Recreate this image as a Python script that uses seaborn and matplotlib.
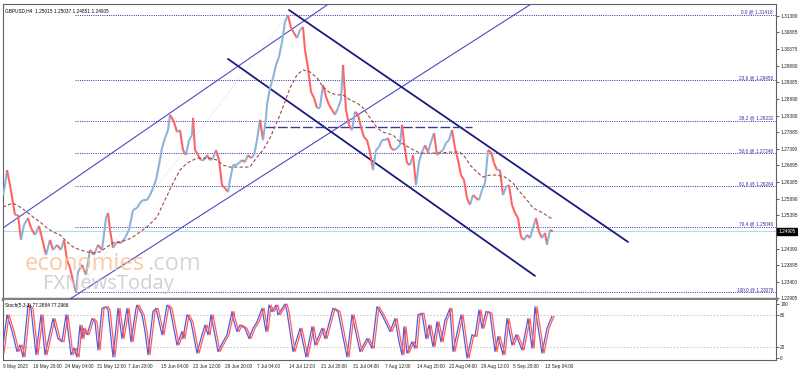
import numpy as np
import pandas as pd
import matplotlib
matplotlib.use("Agg")
import matplotlib.pyplot as plt
import matplotlib.transforms as mtransforms
from matplotlib.collections import LineCollection
import seaborn as sns

# ---------------- data ----------------
# x axis is the bar number (H4 bars); first visible bar = 3
price_bar = [3, 5, 7, 10, 13, 15, 18, 21, 24, 28, 31,
             35, 39, 42, 46, 50, 53, 57, 61, 64, 67,
             70, 74, 76, 78, 82, 86, 90, 94, 98, 102,
             106, 108, 110, 113, 117, 121, 125, 129, 133, 137,
             140, 143, 147, 150, 153, 156, 159, 162, 165, 168,
             170, 174, 177, 180, 183, 186, 189, 192, 193, 195,
             198, 201, 204, 207, 210, 213, 216, 219, 222, 225,
             228, 230, 233, 236, 239, 242, 245, 248, 251, 254,
             257, 260, 263, 266, 267, 270, 273, 276, 279, 282,
             285, 288, 291, 294, 297, 300, 303, 305, 308, 311,
             314, 317, 320, 323, 326, 329, 332, 335, 338, 341,
             343, 346, 349, 352, 355, 358, 361, 364, 367, 370,
             373, 376, 379, 382, 385, 388, 391, 394, 397, 400,
             402, 404, 407, 410, 413, 416, 419, 422, 425, 428,
             431, 434, 437, 440, 443, 446, 449, 452, 455, 458,
             461, 464, 467, 470, 473, 476, 479, 482, 485, 488,
             491, 494, 497, 500, 503, 506, 509, 512, 515, 518,
             521, 524, 527, 530, 533, 536, 539, 542, 545, 547, 550, 553]
price_close = [1.2600, 1.2630, 1.2675, 1.2630, 1.2576, 1.2540, 1.2540, 1.2465, 1.2510, 1.2531, 1.2501,
               1.2480, 1.2507, 1.2471, 1.2420, 1.2465, 1.2435, 1.2450, 1.2435, 1.2465, 1.2405,
               1.2381, 1.2330, 1.2308, 1.2369, 1.2390, 1.2360, 1.2435, 1.2420, 1.2450, 1.2435,
               1.2531, 1.2546, 1.2495, 1.2441, 1.2459, 1.2456, 1.2471, 1.2495, 1.2555, 1.2561,
               1.2576, 1.2585, 1.2585, 1.2600, 1.2621, 1.2645, 1.2690, 1.2741, 1.2771, 1.2795,
               1.2841, 1.2820, 1.2789, 1.2795, 1.2735, 1.2720, 1.2765, 1.2780, 1.2832, 1.2735,
               1.2720, 1.2705, 1.2705, 1.2720, 1.2705, 1.2711, 1.2735, 1.2705, 1.2630, 1.2621,
               1.2609, 1.2645, 1.2690, 1.2690, 1.2696, 1.2705, 1.2699, 1.2720, 1.2711, 1.2720,
               1.2765, 1.2826, 1.2765, 1.2832, 1.2871, 1.2922, 1.2952, 1.2991, 1.3015, 1.3060,
               1.3120, 1.3141, 1.3102, 1.3087, 1.3072, 1.3096, 1.3105, 1.3036, 1.2982, 1.2910,
               1.2892, 1.2862, 1.2862, 1.2931, 1.2895, 1.2871, 1.2856, 1.2841, 1.2862, 1.2886,
               1.2991, 1.2856, 1.2811, 1.2795, 1.2850, 1.2841, 1.2804, 1.2774, 1.2765, 1.2729,
               1.2675, 1.2735, 1.2744, 1.2765, 1.2765, 1.2771, 1.2741, 1.2735, 1.2741, 1.2750,
               1.2811, 1.2759, 1.2696, 1.2690, 1.2720, 1.2630, 1.2699, 1.2729, 1.2750, 1.2729,
               1.2759, 1.2786, 1.2720, 1.2729, 1.2735, 1.2756, 1.2765, 1.2795, 1.2741, 1.2705,
               1.2660, 1.2645, 1.2591, 1.2570, 1.2600, 1.2591, 1.2585, 1.2615, 1.2636, 1.2735,
               1.2729, 1.2696, 1.2675, 1.2675, 1.2600, 1.2624, 1.2630, 1.2570, 1.2546, 1.2531,
               1.2474, 1.2465, 1.2480, 1.2471, 1.2501, 1.2531, 1.2489, 1.2471, 1.2486, 1.2450, 1.2495, 1.24905]

ma_bar = [3, 13, 20, 27, 33, 40, 47, 53, 60, 67,
          73, 80, 87, 93, 100, 107, 113, 120, 127, 133,
          140, 147, 157, 165, 173, 180, 187, 197, 210, 217,
          223, 230, 250, 257, 263, 270, 280, 285, 290, 297,
          303, 310, 317, 323, 330, 337, 343, 350, 357, 363,
          370, 377, 383, 393, 400, 410, 420, 430, 440, 450,
          460, 465, 470, 477, 483, 490, 497, 505, 513, 520,
          527, 533, 543, 552]
ma_value = [1.2564, 1.2576, 1.2564, 1.2549, 1.2534, 1.2519, 1.2501, 1.2489, 1.2480, 1.2459,
            1.2444, 1.2435, 1.2429, 1.2426, 1.2429, 1.2444, 1.2456, 1.2459, 1.2465, 1.2474,
            1.2489, 1.2504, 1.2534, 1.2585, 1.2636, 1.2675, 1.2696, 1.2711, 1.2711, 1.2705,
            1.2690, 1.2684, 1.2684, 1.2714, 1.2735, 1.2771, 1.2841, 1.2880, 1.2922, 1.2961,
            1.2976, 1.2970, 1.2952, 1.2925, 1.2907, 1.2901, 1.2901, 1.2886, 1.2877, 1.2862,
            1.2832, 1.2802, 1.2789, 1.2780, 1.2759, 1.2741, 1.2726, 1.2726, 1.2726, 1.2729,
            1.2729, 1.2714, 1.2690, 1.2669, 1.2654, 1.2660, 1.2660, 1.2654, 1.2636, 1.2609,
            1.2585, 1.2561, 1.2546, 1.2528]

stoch_bar = [2, 7, 12, 17, 20, 23, 28, 31, 36, 41,
             45, 53, 58, 62, 66, 71, 74, 77, 80, 82,
             83, 87, 92, 95, 98, 102, 106, 108, 113, 118,
             122, 127, 131, 136, 137, 142, 145, 148, 153, 156,
             162, 167, 170, 177, 182, 183, 187, 191, 197, 202,
             205, 208, 211, 218, 223, 227, 232, 233, 237, 240,
             245, 249, 253, 257, 262, 266, 269, 272, 276, 278,
             285, 287, 293, 300, 306, 312, 315, 322, 325, 333,
             338, 347, 352, 360, 367, 372, 377, 382, 390, 395,
             399, 402, 404, 407, 412, 415, 418, 422, 426, 429,
             433, 437, 441, 445, 450, 453, 461, 467, 472, 475,
             479, 482, 486, 490, 495, 498, 503, 507, 512, 516,
             522, 528, 532, 535, 542, 547, 552]
stoch_main = [9, 80, 50, 12, 24, 2, 98, 92, 6, 80,
              6, 73, 36, 30, 80, 6, 18, 2, 61, 36,
              55, 43, 73, 67, 15, 92, 95, 89, 2, 92,
              36, 92, 30, 92, 98, 80, 49, 6, 86, 92,
              43, 98, 92, 24, 49, 36, 80, 67, 9, 43,
              61, 43, 80, 12, 30, 43, 86, 73, 49, 61,
              55, 36, 55, 67, 92, 49, 98, 86, 98, 80,
              100, 86, 12, 55, 2, 58, 24, 55, 36, 92,
              86, 2, 80, 12, 36, 18, 95, 80, 49, 73,
              30, 6, 58, 9, 30, 18, 80, 83, 36, 61,
              21, 67, 30, 70, 92, 12, 80, 0, 43, 40,
              89, 55, 86, 83, 12, 40, 6, 73, 24, 43,
              15, 73, 18, 95, 9, 55, 77.29]

fib_levels = ["0.0", "23.6", "38.2", "50.0", "61.8", "76.4", "100.0"]
fib_prices = [1.31418, 1.29450, 1.28232, 1.27248, 1.26264, 1.25046, 1.23079]
fib_start_bar = 75

price_ticks = [1.31380, 1.30885, 1.30375, 1.29880, 1.29385, 1.28890, 1.28380, 1.27885,
               1.27390, 1.26895, 1.26385, 1.25890, 1.25395, 1.24390, 1.23895, 1.23400, 1.22905]
last_price = 1.24905

date_bars = [3, 33, 65, 97, 128, 161, 193, 225, 257, 289, 321, 353, 385, 417, 449, 481, 513, 545]
date_labels = ["9 May 2023", "16 May 20:00", "24 May 04:00", "31 May 12:00", "7 Jun 20:00",
               "15 Jun 04:00", "22 Jun 12:00", "29 Jun 20:00", "7 Jul 04:00", "14 Jul 12:00",
               "21 Jul 20:00", "31 Jul 04:00", "7 Aug 12:00", "14 Aug 20:00", "22 Aug 04:00",
               "29 Aug 12:00", "5 Sep 20:00", "13 Sep 04:00"]

# trend lines: (bar, price) end points
asc_upper = ([3, 340], [1.2501, 1.3198])
asc_lower = ([70, 540], [1.22876, 1.3191])
desc_upper = ([289, 628], [1.3156, 1.2459])
desc_lower = ([228, 535], [1.3009, 1.2357])
resist_line = ([265, 472], [1.2804, 1.2804])
fib_anchor = ([76, 288], [1.23079, 1.31418])

stoch_levels = [20, 80]

# ---------------- figure ----------------
sns.set_style("white")
plt.rcParams['font.family'] = ['Liberation Sans', 'DejaVu Sans']

W, H = 798, 372
fig = plt.figure(figsize=(W / 100, H / 100), dpi=100)
fig.patch.set_facecolor("white")

def rect(x0, y0, x1, y1):
    return [x0 / W, 1 - y1 / H, (x1 - x0) / W, (y1 - y0) / H]

ax = fig.add_axes(rect(3, 4, 776, 299))
axs = fig.add_axes(rect(3, 300, 776, 360))

XL = (3, 776)
ax.set_xlim(*XL)
axs.set_xlim(*XL)
ax.set_ylim(1.22875, 1.31741)
axs.set_ylim(-3.7, 107.4)

fs = 3.4
navy = "#1a1a80"
fibc = "#3030a8"

# fib levels
for lvl, p in zip(fib_levels, fib_prices):
    ax.plot([fib_start_bar, XL[1]], [p, p], color=fibc, lw=0.7, ls=(0, (1, 1.3)), zorder=2)
    ax.text(773, p + 0.00010, f"{lvl} @ {p:.5f}", color=fibc, fontsize=fs,
            ha="right", va="bottom", zorder=5)

# current price line
ax.axhline(last_price, color="#b0dce4", lw=0.8, zorder=1)

# fib diagonal
ax.plot(*fib_anchor, color="#dcdce4", lw=0.7, ls=(0, (1, 1.5)), zorder=1)

# channels
ax.plot(*asc_upper, color="#4a4ac8", lw=0.8, zorder=3)
ax.plot(*asc_lower, color="#4a4ac8", lw=0.8, zorder=3)
ax.plot(*desc_upper, color=navy, lw=1.3, zorder=3)
ax.plot(*desc_lower, color=navy, lw=1.3, zorder=3)
ax.plot(*resist_line, color="#3a3a98", lw=1.0, ls=(0, (7, 2)), zorder=3)

# price line coloured by direction
pts = np.column_stack([price_bar, price_close])
segs = np.stack([pts[:-1], pts[1:]], axis=1)
cols = ["#8db3d9" if b[1] >= a[1] else "#ff6464" for a, b in zip(pts[:-1], pts[1:])]
lc = LineCollection(segs, colors=cols, linewidths=1.5, zorder=4)
ax.add_collection(lc)

# moving average
ma_df = pd.DataFrame({"bar": ma_bar, "ma": ma_value})
sns.lineplot(data=ma_df, x="bar", y="ma", ax=ax, color="#a04848", lw=0.8,
             estimator=None, sort=False, zorder=5)
ax.lines[-1].set_linestyle((0, (3, 2)))

# axis styling (main)
ax.yaxis.tick_right()
ax.set_yticks(price_ticks)
ax.set_yticklabels([f"{t:.5f}" for t in price_ticks])
ax.tick_params(axis="y", labelsize=fs, length=2, width=0.5, pad=1, colors="#202020")
ax.set_xticks([])
ax.set_xlabel("")
ax.set_ylabel("")
for s in ["top", "left", "right"]:
    ax.spines[s].set_color("#606060")
    ax.spines[s].set_linewidth(0.8)
ax.spines["bottom"].set_color("#808080")
ax.spines["bottom"].set_linewidth(2.5)

ax.text(1.003, last_price, f"{last_price:.5f}",
        transform=mtransforms.blended_transform_factory(ax.transAxes, ax.transData),
        ha="left", va="center", fontsize=fs, color="white",
        bbox=dict(boxstyle="square,pad=0.25", fc="black", ec="black"), clip_on=False, zorder=10)

ax.text(0.003, 0.985, "GBPUSD,H4  1.25015 1.25037 1.24851 1.24905", transform=ax.transAxes,
        fontsize=fs, ha="left", va="top", color="#000000")

# watermark
fig.text(25 / W, 1 - 270 / H, "economies", fontsize=17, color="#f9c198",
         family="Open Sans", ha="left", va="baseline", alpha=0.85, zorder=20)
fig.text(147 / W, 1 - 270 / H, ".com", fontsize=17, color="#cfcfcf",
         family="Open Sans", ha="left", va="baseline", alpha=0.85, zorder=20)
fig.text(43 / W, 1 - 289 / H, "FXNewsToday", fontsize=14.5, color="#c8c8c8",
         family="Open Sans", ha="left", va="baseline", alpha=0.85, zorder=20)

# stochastic
st_df = pd.DataFrame({"bar": stoch_bar, "main": stoch_main})
sig_df = pd.DataFrame({"bar": [b + 2 for b in stoch_bar], "signal": stoch_main})
for lv in stoch_levels:
    axs.axhline(lv, color="#c0c0c0", lw=0.6, ls=(0, (2, 2)), zorder=1)
sns.lineplot(data=st_df, x="bar", y="main", ax=axs, color="#5858d8", lw=0.9,
             estimator=None, sort=False, zorder=3)
sns.lineplot(data=sig_df, x="bar", y="signal", ax=axs, color="#ff5c5c", lw=0.9,
             estimator=None, sort=False, zorder=4)
axs.yaxis.tick_right()
axs.set_yticks([0, 20, 80, 100])
axs.tick_params(axis="y", labelsize=fs, length=2, width=0.5, pad=1, colors="#202020")
axs.set_xticks(date_bars)
axs.set_xticklabels(date_labels, ha="left")
axs.tick_params(axis="x", labelsize=fs, length=2, width=0.5, pad=1, colors="#202020")
axs.set_xlabel("")
axs.set_ylabel("")
for s in ["top", "left", "right", "bottom"]:
    axs.spines[s].set_color("#606060")
    axs.spines[s].set_linewidth(0.8)
axs.spines["top"].set_visible(False)
axs.text(0.002, 0.95, "Stoch(5,3,3) 77.2884 77.2966", transform=axs.transAxes,
         fontsize=fs, ha="left", va="top", color="#000000", zorder=10,
         bbox=dict(boxstyle="square,pad=0.05", fc="white", ec="none", alpha=0.0))

fig.savefig("out.png", dpi=100, facecolor="white")
